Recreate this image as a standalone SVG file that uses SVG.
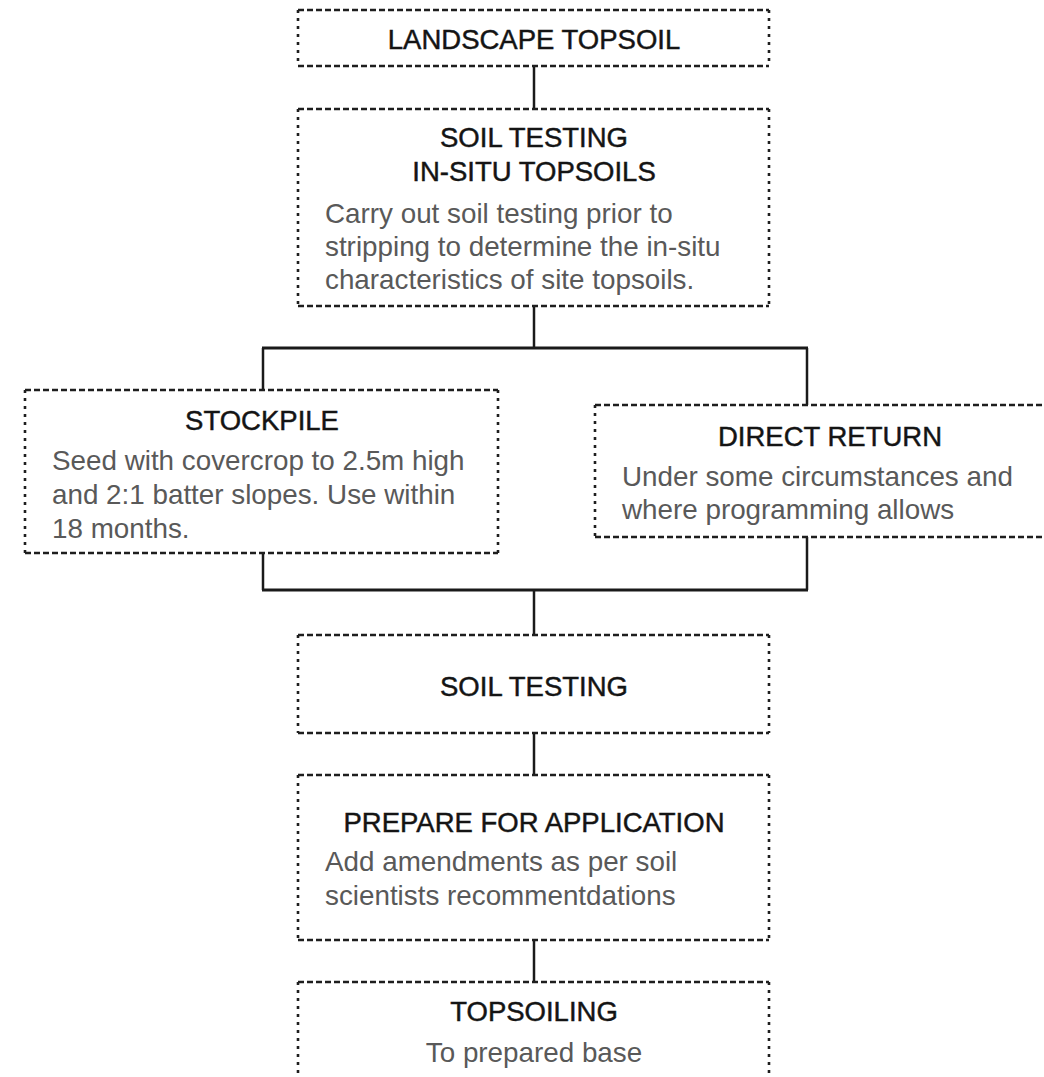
<svg xmlns="http://www.w3.org/2000/svg" width="1044" height="1077" viewBox="0 0 1044 1077">
  <style>
    .box { fill: #ffffff; stroke: none; }
    .edge-h { fill: none; stroke: #1e1e1e; stroke-width: 2.4; stroke-dasharray: 6 3; }
    .edge-v { fill: none; stroke: #1e1e1e; stroke-width: 2.6; stroke-dasharray: 3 5; }
    .title { font-family: "Liberation Sans", Arial, sans-serif; font-size: 27.5px; fill: #141414; stroke: #141414; stroke-width: 0.45; text-anchor: middle; }
    .body { font-family: "Liberation Sans", Arial, sans-serif; font-size: 27.8px; fill: #595959; }
    .body-c { font-family: "Liberation Sans", Arial, sans-serif; font-size: 27.8px; fill: #595959; text-anchor: middle; }
    .link { fill: none; stroke: #1a1a1a; stroke-width: 2.5; }
    .bus { fill: none; stroke: #1a1a1a; stroke-width: 3; }
  </style>

  <rect x="0" y="0" width="1044" height="1077" fill="#ffffff"/>

  <!-- connectors -->
  <g id="connectors">
    <line class="link" x1="534" y1="66" x2="534" y2="109"/>
    <line class="link" x1="534" y1="306" x2="534" y2="348"/>
    <line class="bus" x1="262" y1="348" x2="808" y2="348"/>
    <line class="link" x1="263" y1="348" x2="263" y2="390"/>
    <line class="link" x1="807" y1="348" x2="807" y2="405"/>
    <line class="link" x1="263" y1="553" x2="263" y2="590"/>
    <line class="link" x1="807" y1="537" x2="807" y2="590"/>
    <line class="bus" x1="262" y1="590" x2="808" y2="590"/>
    <line class="link" x1="534" y1="590" x2="534" y2="635"/>
    <line class="link" x1="534" y1="733" x2="534" y2="775"/>
    <line class="link" x1="534" y1="940" x2="534" y2="982"/>
  </g>

  <!-- LANDSCAPE TOPSOIL -->
  <g id="landscape-topsoil">
    <rect class="box" x="298" y="10" width="471" height="56"/>
    <path class="edge-h" d="M298 10 H769 M298 66 H769"/>
    <path class="edge-v" d="M298 10 V66 M769 10 V66"/>
    <text class="title" x="534" y="49">LANDSCAPE TOPSOIL</text>
  </g>

  <!-- SOIL TESTING IN-SITU TOPSOILS -->
  <g id="soil-testing-in-situ">
    <rect class="box" x="298" y="109" width="471" height="197"/>
    <path class="edge-h" d="M298 109 H769 M298 306 H769"/>
    <path class="edge-v" d="M298 109 V306 M769 109 V306"/>
    <text class="title" x="534" y="147">SOIL TESTING</text>
    <text class="title" x="534" y="181">IN-SITU TOPSOILS</text>
    <text class="body" x="325" y="223">Carry out soil testing prior to</text>
    <text class="body" x="325" y="256">stripping to determine the in-situ</text>
    <text class="body" x="325" y="289">characteristics of site topsoils.</text>
  </g>

  <!-- STOCKPILE -->
  <g id="stockpile">
    <rect class="box" x="25" y="390" width="473" height="163"/>
    <path class="edge-h" d="M25 390 H498 M25 553 H498"/>
    <path class="edge-v" d="M25 390 V553 M498 390 V553"/>
    <text class="title" x="262" y="430">STOCKPILE</text>
    <text class="body" x="52" y="470">Seed with covercrop to 2.5m high</text>
    <text class="body" x="52" y="504">and 2:1 batter slopes. Use within</text>
    <text class="body" x="52" y="538">18 months.</text>
  </g>

  <!-- DIRECT RETURN -->
  <g id="direct-return">
    <rect class="box" x="595" y="405" width="471" height="132"/>
    <path class="edge-h" d="M595 405 H1066 M595 537 H1066"/>
    <path class="edge-v" d="M595 405 V537 M1066 405 V537"/>
    <text class="title" x="830" y="446">DIRECT RETURN</text>
    <text class="body" x="622" y="486">Under some circumstances and</text>
    <text class="body" x="622" y="519">where programming allows</text>
  </g>

  <!-- SOIL TESTING -->
  <g id="soil-testing">
    <rect class="box" x="298" y="635" width="471" height="98"/>
    <path class="edge-h" d="M298 635 H769 M298 733 H769"/>
    <path class="edge-v" d="M298 635 V733 M769 635 V733"/>
    <text class="title" x="534" y="696">SOIL TESTING</text>
  </g>

  <!-- PREPARE FOR APPLICATION -->
  <g id="prepare-for-application">
    <rect class="box" x="298" y="775" width="471" height="165"/>
    <path class="edge-h" d="M298 775 H769 M298 940 H769"/>
    <path class="edge-v" d="M298 775 V940 M769 775 V940"/>
    <text class="title" x="534" y="832">PREPARE FOR APPLICATION</text>
    <text class="body" x="325" y="871">Add amendments as per soil</text>
    <text class="body" x="325" y="905">scientists recommentdations</text>
  </g>

  <!-- TOPSOILING -->
  <g id="topsoiling">
    <rect class="box" x="298" y="982" width="471" height="110"/>
    <path class="edge-h" d="M298 982 H769"/>
    <path class="edge-v" d="M298 982 V1092 M769 982 V1092"/>
    <text class="title" x="534" y="1021">TOPSOILING</text>
    <text class="body-c" x="534" y="1062">To prepared base</text>
  </g>
</svg>
